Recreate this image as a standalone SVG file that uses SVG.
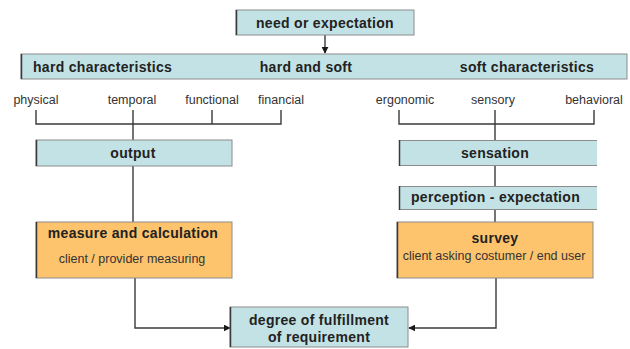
<svg xmlns="http://www.w3.org/2000/svg" width="630" height="349" viewBox="0 0 630 349">
  <defs>
    <marker id="arrow" viewBox="0 0 10 10" refX="9" refY="5" markerWidth="7" markerHeight="7" markerUnits="userSpaceOnUse" orient="auto">
      <path d="M0,0 L10,5 L0,10 z" fill="#1a1a1a"/>
    </marker>
    <style>
      .blue { fill: #c3e2e5; stroke: #8c8c8c; stroke-width: 1; }
      .orange { fill: #fdc46d; stroke: #8c8c8c; stroke-width: 1; }
      .open { fill: #c3e2e5; }
      .rule { stroke: #8c8c8c; stroke-width: 1; fill: none; }
      .edge { stroke: #3a3a3a; stroke-width: 1.5; fill: none; }
      .h { font-family: "Liberation Sans", Arial, sans-serif; font-weight: bold; font-size: 14px; letter-spacing: 0.3px; fill: #222; }
      .s { font-family: "Liberation Sans", Arial, sans-serif; font-size: 12.5px; fill: #333; }
      .c { text-anchor: middle; }
      .wire { stroke: #3a3a3a; stroke-width: 1.4; fill: none; }
    </style>
  </defs>
  <rect width="630" height="349" fill="#ffffff"/>

  <!-- connectors -->
  <g id="connectors">
    <line class="wire" x1="325" y1="35" x2="325" y2="53" marker-end="url(#arrow)"/>
    <!-- hard characteristics bracket -->
    <path class="wire" d="M36,110 V124 H281 V110 M133,110 V140 M212,110 V124"/>
    <line class="wire" x1="133" y1="166" x2="133" y2="222"/>
    <!-- soft characteristics bracket -->
    <path class="wire" d="M399,110 V124 H594 V110 M495,110 V140"/>
    <line class="wire" x1="495" y1="166" x2="495" y2="186"/>
    <line class="wire" x1="495" y1="210" x2="495" y2="222"/>
    <!-- results into degree of fulfillment -->
    <path class="wire" d="M135,278 V328 H230" marker-end="url(#arrow)"/>
    <path class="wire" d="M496,278 V328 H409" marker-end="url(#arrow)"/>
  </g>

  <g id="need">
    <rect class="blue" x="236" y="10" width="178" height="25"/>
    <line class="edge" x1="236.5" y1="10" x2="236.5" y2="35"/>
    <text class="h c" x="325" y="28">need or expectation</text>
  </g>

  <g id="characteristics">
    <rect class="blue" x="21" y="54" width="606" height="25"/>
    <line class="edge" x1="21.5" y1="54" x2="21.5" y2="79"/>
    <text class="h" x="33" y="72">hard characteristics</text>
    <text class="h c" x="306" y="72">hard and soft</text>
    <text class="h c" x="527" y="72">soft characteristics</text>
  </g>

  <g id="hard-labels">
    <text class="s c" x="36" y="104">physical</text>
    <text class="s c" x="132" y="104">temporal</text>
    <text class="s c" x="212" y="104">functional</text>
    <text class="s c" x="281" y="104">financial</text>
  </g>

  <g id="soft-labels">
    <text class="s c" x="405" y="104">ergonomic</text>
    <text class="s c" x="493" y="104">sensory</text>
    <text class="s c" x="594" y="104">behavioral</text>
  </g>

  <g id="output">
    <rect class="blue" x="36" y="140" width="196" height="26"/>
    <line class="edge" x1="36.5" y1="140" x2="36.5" y2="166"/>
    <text class="h c" x="133" y="158">output</text>
  </g>

  <!-- right-hand boxes run off the right margin, so they have no right edge -->
  <g id="sensation">
    <rect class="open" x="399" y="140" width="198" height="26"/>
    <path class="rule" d="M399,140.5 H597 M399,165.5 H597"/>
    <line class="edge" x1="399.5" y1="140" x2="399.5" y2="166"/>
    <text class="h c" x="495" y="158">sensation</text>
  </g>

  <g id="perception">
    <rect class="open" x="399" y="186" width="198" height="24"/>
    <path class="rule" d="M399,186.5 H597 M399,209.5 H597"/>
    <line class="edge" x1="399.5" y1="186" x2="399.5" y2="210"/>
    <text class="h c" x="495.5" y="202">perception - expectation</text>
  </g>

  <g id="measure">
    <rect class="orange" x="36" y="222" width="196" height="56"/>
    <line class="edge" x1="36.5" y1="222" x2="36.5" y2="278"/>
    <text class="h c" x="133" y="238">measure and calculation</text>
    <text class="s c" x="132" y="263">client / provider measuring</text>
  </g>

  <g id="survey">
    <rect class="orange" x="397" y="222" width="196" height="56"/>
    <line class="edge" x1="397.5" y1="222" x2="397.5" y2="278"/>
    <text class="h c" x="495" y="243">survey</text>
    <text class="s c" x="494" y="260">client asking costumer / end user</text>
  </g>

  <g id="fulfillment">
    <rect class="blue" x="230" y="307" width="178" height="40"/>
    <line class="edge" x1="230.5" y1="307" x2="230.5" y2="347"/>
    <text class="h c" x="319" y="325">degree of fulfillment</text>
    <text class="h c" x="319" y="342">of requirement</text>
  </g>
</svg>
